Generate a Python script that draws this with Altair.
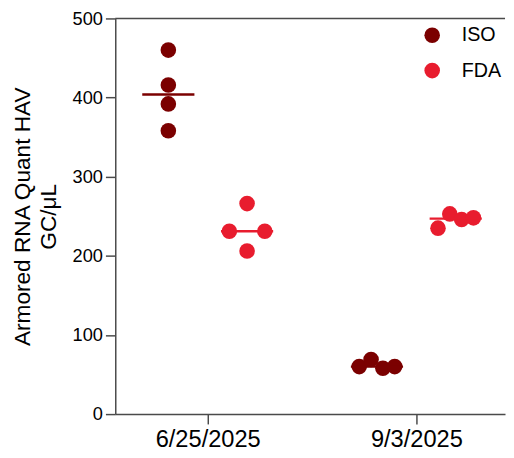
import altair as alt
import pandas as pd

# ---- data ----
dates = ["6/25/2025", "9/3/2025"]
groups = ["ISO", "FDA"]
iso_0625 = [460, 416, 392, 358]
fda_0625 = [266, 231, 231, 206]
iso_0903 = [60, 69, 58, 60]
fda_0903 = [235, 253, 246, 248]
colors = ["#7B0000", "#E81C2E"]

# ---- layout constants ----
W, H = 396, 402
x_dom = [-0.443, 1.425]
px_per_unit = W / (x_dom[1] - x_dom[0])
group_off_px = {"ISO": -40, "FDA": 40}
dot_d = 17          # dot diameter (px)
spread_px = 36      # width of a swarm row (px)
y_px_per_unit = H / 500

series = {
    ("6/25/2025", "ISO"): iso_0625,
    ("6/25/2025", "FDA"): fda_0625,
    ("9/3/2025", "ISO"): iso_0903,
    ("9/3/2025", "FDA"): fda_0903,
}


def swarm_offsets(vals):
    """Spread points that overlap vertically across one row (Prism style)."""
    order = sorted(range(len(vals)), key=lambda i: vals[i])
    clusters, cur = [], [order[0]]
    for a, b in zip(order, order[1:]):
        if (vals[b] - vals[a]) * y_px_per_unit < dot_d:
            cur.append(b)
        else:
            clusters.append(cur)
            cur = [b]
    clusters.append(cur)
    offs = [0.0] * len(vals)
    for c in clusters:
        c = sorted(c)  # keep data order inside a row
        n = len(c)
        for k, i in enumerate(c):
            offs[i] = 0.0 if n == 1 else -spread_px / 2 + spread_px * k / (n - 1)
    return offs


rows = []
for (d, g), vals in series.items():
    di = dates.index(d)
    offs = swarm_offsets(vals)
    center = di + group_off_px[g] / px_per_unit
    for v, o in zip(vals, offs):
        rows.append({"date": d, "group": g, "value": v,
                     "center": center, "xpos": center + o / px_per_unit})
df = pd.DataFrame(rows)

axis_col = "#4a4a4a"
font = "Liberation Sans"
label_expr = "[" + ",".join("'%s'" % d for d in dates) + "][datum.value]"

color = alt.Color("group:N",
                  scale=alt.Scale(domain=groups, range=colors),
                  sort=groups,
                  legend=alt.Legend(title=None, orient="none",
                                    legendX=312, legendY=7,
                                    symbolSize=250, symbolType="circle",
                                    symbolStrokeWidth=0, labelFontSize=20,
                                    labelFont=font, labelColor="black",
                                    labelOffset=20, rowPadding=16, padding=0))

x_enc = alt.X("xpos:Q",
              scale=alt.Scale(domain=x_dom, nice=False, zero=False),
              axis=alt.Axis(values=[0, 1], labelExpr=label_expr, title=None,
                            grid=False, labelFontSize=24, labelFont=font,
                            labelColor="black", labelPadding=4,
                            tickSize=10, tickWidth=1.5, tickColor=axis_col,
                            domainColor=axis_col, domainWidth=1.5))
y_enc = alt.Y("value:Q",
              scale=alt.Scale(domain=[0, 500], nice=False),
              axis=alt.Axis(values=[0, 100, 200, 300, 400, 500],
                            title=["Armored RNA Quant HAV", "GC/μL"],
                            titleFontSize=23, titleFont=font,
                            titleFontWeight="normal", titleColor="black",
                            titleLineHeight=26, titlePadding=12,
                            grid=False, labelFontSize=18.5, labelFont=font,
                            labelColor="black", labelPadding=3,
                            tickSize=10, tickWidth=1.5, tickColor=axis_col,
                            domainColor=axis_col, domainWidth=1.5))

base = alt.Chart(df)

points = base.mark_circle(size=250, opacity=1).encode(
    x=x_enc, y=y_enc, color=color)

medians = base.transform_aggregate(
    med="median(value)", groupby=["date", "group", "center"]
).mark_tick(orient="horizontal", size=53, thickness=2.5, opacity=1).encode(
    x=alt.X("center:Q"),
    y=alt.Y("med:Q"),
    color=alt.Color("group:N", scale=alt.Scale(domain=groups, range=colors),
                    legend=None))

top_line = alt.Chart(pd.DataFrame({"v": [500]})).mark_rule(
    color=axis_col, strokeWidth=1.5).encode(
    y=alt.Y("v:Q"), x=alt.value(0), x2=alt.value(W))

chart = alt.layer(points, medians, top_line).properties(
    width=W, height=H,
    autosize=alt.AutoSizeParams(type="none"),
    padding={"left": 109, "top": 7, "right": 1, "bottom": 41},
).configure_view(stroke=None)

chart.save("out.html", embed_options={"renderer": "svg", "actions": False})
